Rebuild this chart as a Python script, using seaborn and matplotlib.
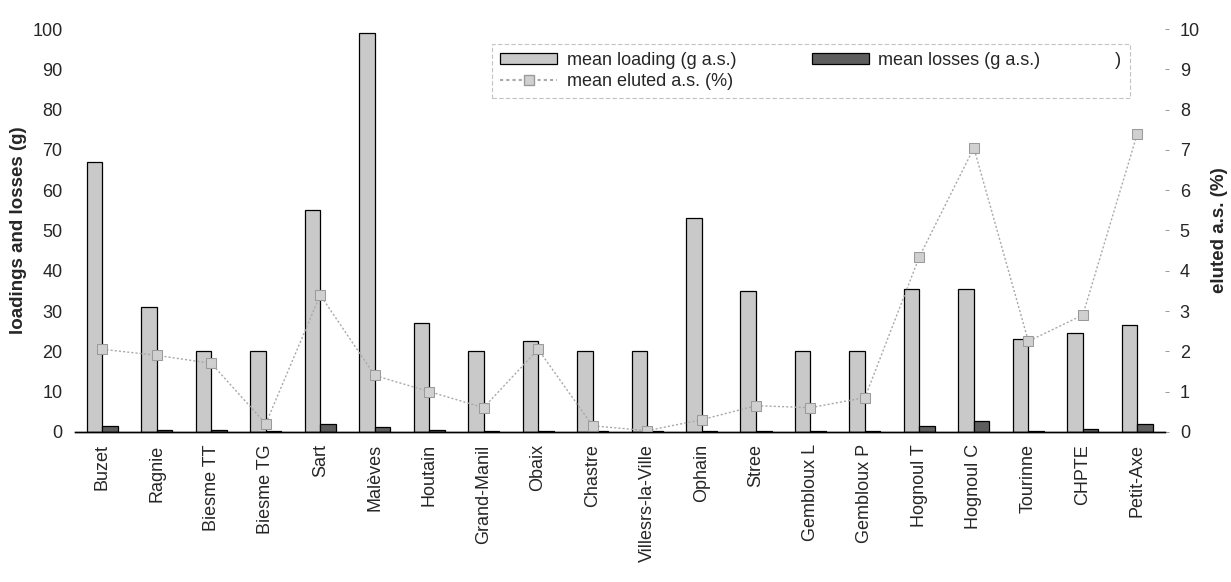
import matplotlib
matplotlib.use("Agg")
import matplotlib.pyplot as plt
import pandas as pd
import seaborn as sns
from matplotlib.patches import Patch
from matplotlib.lines import Line2D

sns.set_style("white")
plt.rcParams["font.family"] = ["Liberation Sans", "DejaVu Sans"]

# -------------------------------------------------------------
# data
# -------------------------------------------------------------
sites = ["Buzet", "Ragnie", "Biesme TT", "Biesme TG", "Sart", "Malèves",
         "Houtain", "Grand-Manil", "Obaix", "Chastre", "Villesrs-la-Ville",
         "Ophain", "Stree", "Gembloux L", "Gembloux P", "Hognoul T",
         "Hognoul C", "Tourinne", "CHPTE", "Petit-Axe"]
loading = [67, 31, 20, 20, 55, 99, 27, 20, 22.5, 20, 20, 53, 35, 20, 20,
           35.5, 35.5, 23, 24.5, 26.5]
losses = [1.5, 0.5, 0.4, 0.1, 2.0, 1.3, 0.4, 0.1, 0.3, 0.1, 0.1, 0.1, 0.3,
          0.1, 0.1, 1.5, 2.6, 0.3, 0.8, 2.0]
eluted = [2.05, 1.9, 1.7, 0.2, 3.4, 1.4, 1.0, 0.6, 2.05, 0.15, 0.03, 0.3,
          0.65, 0.6, 0.85, 4.35, 7.05, 2.25, 2.9, 7.4]

lab_load = "mean loading (g a.s.)"
lab_loss = "mean losses (g a.s.)"
lab_elut = "mean eluted a.s. (%)"

c_load, c_loss = "#c9c9c9", "#5e5e5e"
c_line, c_mark, c_medge = "#a9a9a9", "#d0d0d0", "#9a9a9a"

bars = pd.DataFrame({
    "site": sites * 2,
    "series": [lab_load] * len(sites) + [lab_loss] * len(sites),
    "value": loading + losses,
})
line = pd.DataFrame({"site": sites, "eluted": eluted})

# -------------------------------------------------------------
# figure
# -------------------------------------------------------------
fig = plt.figure(figsize=(12.31, 5.82), dpi=100)
ax = fig.add_axes([0.061, 0.258, 0.885, 0.692])

sns.barplot(data=bars, x="site", y="value", hue="series", ax=ax,
            palette=[c_load, c_loss], edgecolor="black", linewidth=0.9,
            width=0.57, gap=0, legend=False)

ax2 = ax.twinx()
sns.lineplot(data=line, x="site", y="eluted", ax=ax2, color=c_line,
             linestyle=(0, (1.5, 1.5)), linewidth=1.0, marker="s",
             markersize=7, markerfacecolor=c_mark,
             markeredgecolor=c_medge, sort=False)

ax.set_xlim(-0.5, len(sites) - 0.5)
ax.set_ylim(0, 100)
ax2.set_ylim(0, 10)
ax.set_yticks(range(0, 101, 10))
ax2.set_yticks(range(0, 11, 1))

for a in (ax, ax2):
    for s in ("top", "left", "right"):
        a.spines[s].set_visible(False)
    a.spines["bottom"].set_color("black")
    a.spines["bottom"].set_linewidth(1.0)

ax.tick_params(axis="y", length=0, labelsize=13, pad=9)
ax.tick_params(axis="x", length=0, labelsize=13, pad=9)
ax2.tick_params(axis="y", length=3, width=0.6, color="#888888",
                labelsize=13, pad=8)
plt.setp(ax.get_xticklabels(), rotation=90)

ax.set_xlabel("")
ax.set_ylabel("loadings and losses (g)", fontsize=13.5, fontweight="bold",
              labelpad=4)
ax2.set_ylabel("eluted a.s. (%)", fontsize=13.5, fontweight="bold",
               labelpad=8)

# legend (the stray bracket of the original sits on the losses row)
handles = [
    Patch(facecolor=c_load, edgecolor="black", linewidth=0.9),
    Line2D([], [], color=c_line, linestyle=(0, (1.5, 1.5)), marker="s",
           markersize=7, markerfacecolor=c_mark, markeredgecolor=c_medge),
    Patch(facecolor=c_loss, edgecolor="black", linewidth=0.9),
]
leg = fig.legend(handles, [lab_load, lab_elut, lab_loss + " " * 15 + ")"],
                 ncol=2, loc="upper left",
                 bbox_to_anchor=(0.392, 0.84, 0.533, 0.1),
                 mode="expand", fontsize=13, handlelength=3.2,
                 handleheight=0.6, handletextpad=0.5, labelspacing=0.2,
                 frameon=True, fancybox=False, borderpad=0.45)
leg.get_frame().set_edgecolor("#b5b5b5")
leg.get_frame().set_linestyle((0, (4, 2)))
leg.get_frame().set_linewidth(0.8)

fig.savefig("out.png", dpi=100)
